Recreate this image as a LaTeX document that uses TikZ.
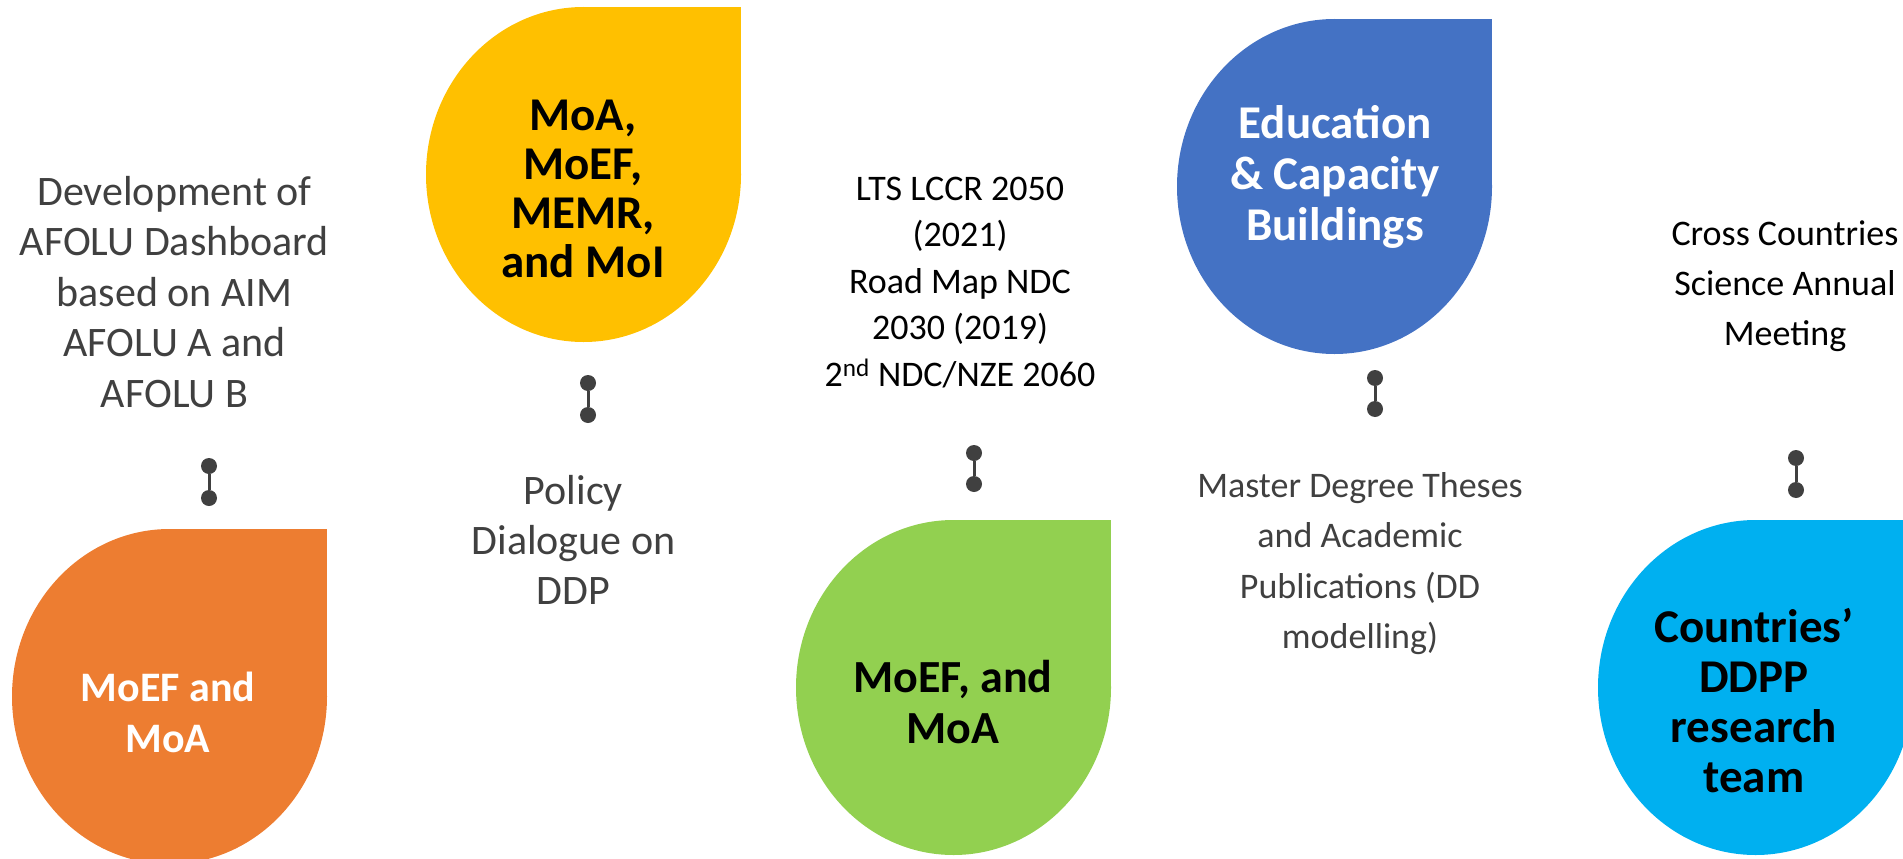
\documentclass[tikz,border=0pt]{standalone}
\usepackage{fontspec}
\setmainfont{Carlito}

\definecolor{dropOrange}{HTML}{ED7D31}
\definecolor{dropYellow}{HTML}{FFC000}
\definecolor{dropGreen}{HTML}{92D050}
\definecolor{dropBlue}{HTML}{4472C4}
\definecolor{dropCyan}{HTML}{00B0F0}
\definecolor{inkGray}{HTML}{404040}

% centred stack of lines, baseline on the first line
\newcommand\txtstack[1]{\begin{tabular}[t]{@{}c@{}}#1\end{tabular}}

% teardrop: ellipse whose upper-right quadrant is a square corner
\newcommand\teardrop[3]{%
  \fill[#1] (#2,#3) ellipse [x radius=157.5, y radius=167.5];
  \fill[#1] (#2,#3) rectangle ++(157.5,-167.5);
}

\tikzset{
  knob/.style={circle, fill=inkGray, inner sep=0pt, minimum size=16pt},
  knobline/.style={draw=inkGray, line width=3pt},
  note/.style={inner sep=0pt, anchor=base, text=inkGray,
               font=\fontsize{42}{50.5}\selectfont},
  smallnote/.style={inner sep=0pt, anchor=base, text=black,
               font=\fontsize{36}{46.5}\selectfont},
  midnote/.style={inner sep=0pt, anchor=base, text=inkGray,
               font=\fontsize{36}{50.5}\selectfont},
  droptext/.style={inner sep=0pt, anchor=base,
               font=\fontsize{47}{51}\selectfont\bfseries},
}

\begin{document}
\begin{tikzpicture}[x=1pt, y=-1pt]
\useasboundingbox (0,0) rectangle (1903,859);

% coloured drops
\teardrop{dropOrange}{169.5}{696.5}
\teardrop{dropYellow}{583.5}{174.5}
\teardrop{dropGreen}{953.5}{687.5}
\teardrop{dropBlue}{1334.5}{186.5}
\teardrop{dropCyan}{1755.5}{687.5}

% texts inside the drops
\node[droptext, text=white, font=\fontsize{42}{51.5}\selectfont\bfseries]
  (orangeTxt) at (168,701) {\txtstack{MoEF and\\MoA}};
\node[droptext, text=black, font=\fontsize{47}{49}\selectfont\bfseries]
  (yellowTxt) at (583,130) {\txtstack{MoA,\\MoEF,\\MEMR,\\and MoI}};
\node[droptext, text=black, font=\fontsize{46}{51}\selectfont\bfseries]
  (greenTxt) at (953,692) {\txtstack{MoEF, and\\MoA}};
\node[droptext, text=white] (blueTxt) at (1335,138)
  {\txtstack{Education\\\& Capacity\\Buildings}};
\node[droptext, text=black, font=\fontsize{47}{50.3}\selectfont\bfseries]
  (cyanTxt) at (1754,642) {\txtstack{Countries’\\DDPP\\research\\team}};

% activity texts
\node[note] (devTxt) at (174.5,205)
  {\txtstack{Development of\\AFOLU Dashboard\\based on AIM\\AFOLU A and\\AFOLU B}};
\node[note, font=\fontsize{42}{50}\selectfont] (policyTxt) at (573.5,504)
  {\txtstack{Policy\\Dialogue on\\DDP}};
\node[smallnote] (ltsTxt) at (960,200)
  {\txtstack{LTS LCCR 2050\\(2021)\\Road Map NDC\\2030 (2019)\\2\textsuperscript{nd} NDC/NZE 2060}};
\node[midnote] (masterTxt) at (1360,497)
  {\txtstack{Master Degree Theses\\and Academic\\Publications (DD\\modelling)}};
\node[smallnote, font=\fontsize{36}{50}\selectfont] (crossTxt) at (1785,245)
  {\txtstack{Cross Countries\\Science Annual\\Meeting}};

% small two-dot connectors
\node[knob] (k1a) at (209,466) {};
\node[knob] (k1b) at (209,498) {};
\node[knob] (k2a) at (588,383) {};
\node[knob] (k2b) at (588,415) {};
\node[knob] (k3a) at (974,453) {};
\node[knob] (k3b) at (974,484) {};
\node[knob] (k4a) at (1375,378) {};
\node[knob] (k4b) at (1375,409) {};
\node[knob] (k5a) at (1796,458) {};
\node[knob] (k5b) at (1796,490) {};
\draw[knobline] (k1a) -- (k1b);
\draw[knobline] (k2a) -- (k2b);
\draw[knobline] (k3a) -- (k3b);
\draw[knobline] (k4a) -- (k4b);
\draw[knobline] (k5a) -- (k5b);
\end{tikzpicture}
\end{document}
